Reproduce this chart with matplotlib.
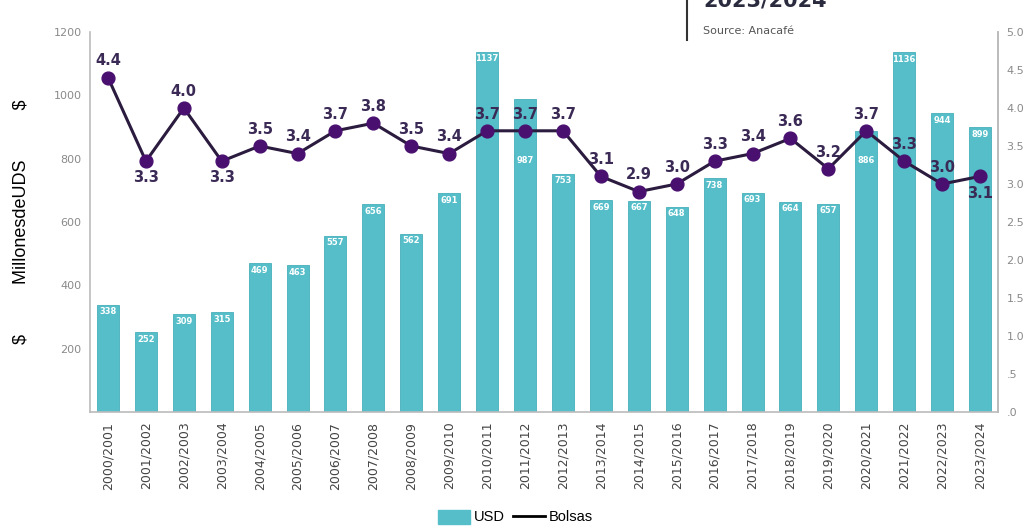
import numpy as np
import matplotlib
matplotlib.use("Agg")
import matplotlib.pyplot as plt
from matplotlib.lines import Line2D

seasons = ["2000/2001", "2001/2002", "2002/2003", "2003/2004", "2004/2005", "2005/2006",
           "2006/2007", "2007/2008", "2008/2009", "2009/2010", "2010/2011", "2011/2012",
           "2012/2013", "2013/2014", "2014/2015", "2015/2016", "2016/2017", "2017/2018",
           "2018/2019", "2019/2020", "2020/2021", "2021/2022", "2022/2023", "2023/2024"]
usd = [338, 252, 309, 315, 469, 463, 557, 656, 562, 691, 1137, 987,
       753, 669, 667, 648, 738, 693, 664, 657, 886, 1136, 944, 899]
bolsas = [4.4, 3.3, 4.0, 3.3, 3.5, 3.4, 3.7, 3.8, 3.5, 3.4, 3.7, 3.7,
          3.7, 3.1, 2.9, 3.0, 3.3, 3.4, 3.6, 3.2, 3.7, 3.3, 3.0, 3.1]
# where the line label sits: 1 above, -1 below
label_side = [1, -1, 1, -1, 1, 1, 1, 1, 1, 1, 1, 1,
              1, 1, 1, 1, 1, 1, 1, 1, 1, 1, 1, -1]
right_ticks = [0, .5, 1, 1.5, 2, 2.5, 3, 3.5, 4, 4.5, 5]
right_labels = [".0", ".5", "1.0", "1.5", "2.0", "2.5", "3.0", "3.5", "4.0", "4.5", "5.0"]

bar_col = "#55BEC9"
line_col = "#2B1B3F"
dot_col = "#4A1070"
lab_col = "#3A2A55"
gray = "#8A8A8A"

fig = plt.figure(figsize=(10.31, 5.29), dpi=100)
ax = fig.add_axes([0.0873, 0.2212, 0.8807, 0.7183])
x = np.arange(len(seasons))
k = 1200 / 5  # left units per right unit

ax.bar(x, usd, width=0.58, color=bar_col, edgecolor="#47B0BB", linewidth=0.6, zorder=2)
for xi, v, b, side in zip(x, usd, bolsas, label_side):
    y = v - 22
    line_lab = (b + side * 0.22) * k
    # drop the bar label under the dot when it would clash with the line
    if abs(y - line_lab) < 50 or abs(y - b * k) < 40:
        y = b * k - 95
    ax.text(xi, y, str(v), ha="center", va="center", color="white",
            fontsize=6, fontweight="bold", zorder=3)

ax.set_xlim(-0.475, 23.475)
ax.set_ylim(0, 1200)
ax.set_yticks(range(0, 1201, 200))
ax.set_yticklabels(["", "200", "400", "600", "800", "1000", "1200"])
ax.set_xticks(x)
ax.set_xticklabels(seasons, rotation=90, fontsize=9, color="#444444")
ax.tick_params(axis="y", labelsize=8, colors=gray, length=0, pad=6)
ax.tick_params(axis="x", length=0, pad=7)
ax.spines["top"].set_visible(False)
for s in ["left", "bottom", "right"]:
    ax.spines[s].set_color("#BBBBBB")
    ax.spines[s].set_linewidth(1.2)

ax.set_ylabel("\\$          MillonesdeUDS          \\$", fontsize=13, color="black",
              family="Liberation Sans")
ax.yaxis.set_label_coords(-0.067, 0.5)

ax2 = ax.twinx()
ax2.set_ylim(0, 5)
ax2.plot(x, bolsas, color=line_col, linewidth=2.2, zorder=4)
ax2.scatter(x, bolsas, s=85, color=dot_col, zorder=5)
for xi, v, side in zip(x, bolsas, label_side):
    ax2.text(xi, v + side * 0.22, f"{v:.1f}", ha="center", va="center",
             fontsize=10.5, fontweight="bold", color=lab_col, zorder=6)
ax2.set_yticks(right_ticks)
ax2.set_yticklabels(right_labels)
ax2.tick_params(axis="y", labelsize=8, colors=gray, length=0, pad=6)
for s in ["top", "left", "bottom"]:
    ax2.spines[s].set_visible(False)
ax2.spines["right"].set_color("#BBBBBB")
ax2.spines["right"].set_linewidth(1.2)

# partial header at the top
fig.add_artist(Line2D([687 / 1031, 687 / 1031], [1.0, 1 - 40 / 529], color="#333333", linewidth=1.5))
fig.text(703 / 1031, 1.0, "2023/2024", fontsize=15, fontweight="bold", color="#2B2B3F",
         ha="left", va="center")
fig.text(703 / 1031, 1 - 31 / 529, "Source: Anacafé", fontsize=8, color="#555555",
         ha="left", va="center")

handles = [plt.Rectangle((0, 0), 1, 1, color=bar_col),
           Line2D([0], [0], color="black", linewidth=2)]
fig.legend(handles, ["USD", "Bolsas"], loc="center", bbox_to_anchor=(0.5, 1 - 517 / 529),
           ncol=2, frameon=False, handlelength=2.2, handleheight=1.1,
           columnspacing=0.5, handletextpad=0.3, prop={"family": "Liberation Sans", "size": 10.5})

fig.savefig("out.png", dpi=100)
